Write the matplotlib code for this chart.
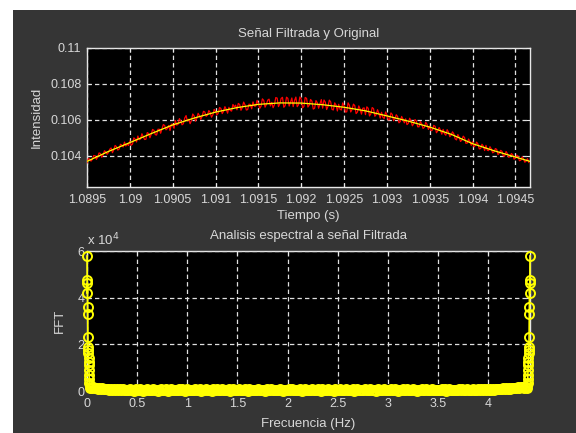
import numpy as np
import matplotlib
matplotlib.use("Agg")
import matplotlib.pyplot as plt
from matplotlib.patches import Rectangle

plt.rcParams['font.family'] = ['Liberation Sans', 'DejaVu Sans']

# ---------------- data: top panel ----------------
t_start = 1.0895
t_step = 0.000015625
# original (noisy) signal, units of 1e-6
original_u = [
    103620, 103854, 103829, 103713, 103818, 104022, 104016, 103810, 103935, 104169, 104134, 103928, 104043, 104287, 104231, 104095,
    104190, 104371, 104441, 104182, 104343, 104584, 104514, 104325, 104385, 104646, 104596, 104497, 104768, 104549, 104659, 104580,
    104830, 104591, 104662, 105004, 104925, 104776, 105107, 104899, 104940, 105231, 105072, 104914, 104925, 105296, 105247, 105009,
    105210, 105470, 105420, 105180, 105160, 105480, 105480, 105260, 105490, 105740, 105690, 105450, 105520, 105690, 105410, 105760,
    105760, 105534, 105967, 105711, 105755, 106069, 105952, 105726, 105790, 106104, 106237, 105931, 106035, 105789, 105962, 106326,
    106220, 105931, 106081, 106362, 106233, 106034, 106204, 106475, 106435, 106196, 106266, 106517, 106408, 106149, 106279, 106580,
    106490, 106276, 106371, 106687, 106633, 106349, 106484, 106730, 106585, 106371, 106696, 106522, 106488, 106854, 106719, 106815,
    106560, 106911, 106852, 106533, 106685, 106986, 106837, 106548, 106570, 106871, 106852, 106613, 106995, 106766, 106767, 107078,
    106900, 106635, 106760, 107165, 107080, 106705, 106860, 107095, 107150, 106775, 106970, 106675, 106830, 107235, 107210, 106735,
    106880, 107189, 107249, 106698, 106788, 107257, 107196, 106765, 106975, 107214, 106734, 107073, 107263, 106732, 106841, 107271,
    107150, 106664, 106739, 107243, 107188, 106712, 106816, 107130, 107035, 106599, 106644, 107068, 106953, 106647, 106891, 107125,
    106650, 107101, 106983, 106574, 106745, 107096, 106998, 106579, 106550, 106941, 106823, 106494, 106865, 106586, 106548, 106939,
    106790, 106438, 106445, 106943, 106810, 106438, 106585, 106873, 106790, 106348, 106435, 106773, 106600, 106318, 106645, 106663,
    106290, 106723, 106645, 106218, 106330, 106683, 106625, 106198, 106300, 106563, 106365, 106098, 106420, 106143, 106075, 106438,
    106280, 106002, 106014, 106386, 106298, 105950, 106071, 106283, 106185, 105837, 105909, 106191, 106043, 105835, 106056, 105738,
    105810, 106090, 105959, 105669, 105788, 106018, 105936, 105616, 105615, 105905, 105774, 105524, 105593, 105863, 105751, 105471,
    105660, 105395, 105440, 105695, 105640, 105285, 105390, 105575, 105430, 105205, 105470, 105235, 105150, 105455, 105320, 105065,
    105160, 105338, 105225, 104943, 104890, 105188, 105035, 104803, 104880, 105098, 105015, 104703, 104710, 104938, 104795, 104593,
    104790, 104506, 104581, 104767, 104663, 104389, 104414, 104650, 104545, 104301, 104586, 104312, 104298, 104514, 104379, 104175,
    104220, 104408, 104366, 104074, 104162, 104310, 104249, 103997, 104005, 104243, 104131, 103929, 103997, 104135, 104064, 103822,
    103880, 104048, 103966, 103734, 103762, 103950, 103848, 103656, 103714, 103852, 103640,
]
# filtered signal knots
filt_t = [1.08950, 1.08975, 1.09000, 1.09025, 1.09050, 1.09075, 1.09100,
          1.09125, 1.09150, 1.09175, 1.09200, 1.09225, 1.09250, 1.09275,
          1.09300, 1.09325, 1.09350, 1.09375, 1.09400, 1.09425, 1.09450,
          1.09467]
filt_y = [0.10370, 0.10425, 0.10474, 0.10524, 0.10572, 0.10610, 0.10643,
          0.10668, 0.10686, 0.10694, 0.10693, 0.10684, 0.10670, 0.10650,
          0.10622, 0.10593, 0.10560, 0.10520, 0.10468, 0.10429, 0.10394,
          0.10370]
top_xticks = [1.0895, 1.09, 1.0905, 1.091, 1.0915, 1.092, 1.0925, 1.093,
              1.0935, 1.094, 1.0945]
top_xticklabels = ['1.0895', '1.09', '1.0905', '1.091', '1.0915', '1.092',
                   '1.0925', '1.093', '1.0935', '1.094', '1.0945']
top_yticks = [0.104, 0.106, 0.108, 0.11]
top_yticklabels = ['0.104', '0.106', '0.108', '0.11']

# ---------------- data: bottom panel ----------------
fs = 4.416
left_f = [0.000, 0.0015, 0.003, 0.0045, 0.006, 0.0075, 0.009, 0.0105, 0.012,
          0.0135, 0.015, 0.0165, 0.018, 0.0195, 0.021, 0.0225, 0.024, 0.027,
          0.030]
left_v = [57860, 47570, 41870, 46160, 36130, 33000, 23270, 18990, 17570,
          16290, 14000, 12500, 11000, 9000, 7000, 5000, 3500, 2500, 1500]
mid_v = [
    1900, 1500, 1700, 1200, 1400, 1000, 1300, 900, 1100, 800,
    1000, 700, 900, 600, 850, 500, 800, 450, 700, 400,
    650, 300, 700, 500, 250, 600, 400, 750, 350, 550,
    200, 650, 450, 300, 700, 500, 150, 600, 400, 800,
    350, 550, 250, 700, 450, 600, 200, 500, 750, 300,
    600, 400, 650, 150, 550, 700, 350, 450, 250, 600,
    500, 800, 300, 650, 400, 200, 700, 550, 350, 600,
    250, 450, 700, 500, 300, 650, 150, 550, 400, 750,
    450, 300, 600, 200, 700, 500, 350, 650, 250, 550,
    700, 400, 300, 600, 450, 750, 200, 500, 650, 350,
    550, 250, 700, 400, 600, 300, 800, 450, 150, 650,
    400, 600, 350, 500, 250, 700, 450, 300, 600, 500,
    200, 650, 500, 350, 750, 400, 600, 250, 550, 300,
    700, 450, 200, 600, 500, 350, 650, 400, 750, 300,
    500, 250, 600, 450, 700, 150, 550, 650, 350, 450,
    600, 300, 750, 400, 500, 250, 650, 450, 200, 700,
    350, 550, 400, 650, 300, 600, 500, 200, 700, 450,
    250, 650, 450, 550, 350, 750, 300, 500, 600, 400,
    700, 200, 500, 650, 400, 300, 600, 450, 750, 250,
    550, 400, 700, 300, 600, 500, 150, 650, 350, 550,
    450, 750, 250, 500, 600, 350, 700, 400, 300, 650,
    500, 200, 600, 450, 750, 300, 550, 650, 250, 500,
    400, 700, 350, 600, 200, 550, 450, 750, 300, 600,
    650, 300, 500, 400, 700, 250, 600, 350, 550, 450,
    300, 750, 450, 650, 200, 500, 700, 400, 600, 350,
    550, 400, 250, 700, 500, 650, 300, 450, 800, 400,
    600, 350, 750, 450, 550, 300, 650, 500, 850, 450,
    700, 500, 800, 400, 900, 600, 750, 550, 1000, 650,
    850, 1000, 700, 1100, 800, 1200, 900, 1300, 1000, 1400,
    1100, 1500, 1300, 1700, 1200, 1600, 1800, 1400, 1900, 1700,
]
right_f = [4.386, 4.389, 4.392, 4.3935, 4.395, 4.3965, 4.398, 4.3995, 4.401,
           4.4025, 4.404, 4.4055, 4.407, 4.4085, 4.410, 4.4115, 4.413,
           4.4145, 4.416]
right_v = [1500, 2500, 3500, 5000, 7000, 9000, 11000, 12500, 14000, 16290,
           17570, 18990, 23270, 33000, 36130, 46160, 41870, 47570, 57860]
bot_xticks = [0, 0.5, 1, 1.5, 2, 2.5, 3, 3.5, 4]
bot_xticklabels = ['0', '0.5', '1', '1.5', '2', '2.5', '3', '3.5', '4']
bot_yticks = [0, 20000, 40000, 60000]
bot_yticklabels = ['0', '2', '4', '6']

# ---------------- figure ----------------
W, H = 576, 433
fig = plt.figure(figsize=(W / 100, H / 100), dpi=100, facecolor='white')
bg = '#353535'
txt = '#d8d8d8'
fig.patches.append(Rectangle((13 / W, 0), 1 - 13 / W, 1 - 10 / H,
                             transform=fig.transFigure, facecolor=bg,
                             edgecolor='none', zorder=-10))

def style(ax):
    ax.set_facecolor('black')
    for s in ax.spines.values():
        s.set_color('#e8e8e8')
        s.set_linewidth(1.0)
    ax.tick_params(direction='in', colors='#e8e8e8', labelcolor=txt,
                   labelsize=9, length=3, width=0.8, top=True, right=True)
    ax.grid(True, color='#e0e0e0', linestyle=(0, (3.5, 2.5)), linewidth=0.9)
    ax.set_axisbelow(False)

# top axes
ax1 = fig.add_axes([87 / W, 1 - 187 / H, (530 - 87) / W, (187 - 47.7) / H])
style(ax1)
t = t_start + np.arange(len(original_u)) * t_step
orig = np.array(original_u) * 1e-6
ax1.plot(t, orig, color='#ff0000', linewidth=0.9, zorder=3)
ax1.plot(filt_t, filt_y, color='#ffff00', linewidth=0.9, zorder=4)
ax1.set_xlim(1.0895, 1.09467)
ax1.set_ylim(0.10228, 0.11)
ax1.set_xticks(top_xticks)
ax1.set_xticklabels(top_xticklabels)
ax1.set_yticks(top_yticks)
ax1.set_yticklabels(top_yticklabels)
ax1.tick_params(axis='x', pad=5)
ax1.tick_params(axis='y', pad=4)
ax1.set_title('Señal Filtrada y Original', color=txt, fontsize=9.5, pad=8)
ax1.set_xlabel('Tiempo (s)', color=txt, fontsize=9.5, labelpad=3)
ax1.set_ylabel('Intensidad', color=txt, fontsize=9.5, labelpad=5)

# bottom axes
ax2 = fig.add_axes([87 / W, 1 - 391 / H, (530 - 87) / W, (391 - 251) / H])
style(ax2)
mid_f = np.linspace(0.035, fs - 0.035, len(mid_v))
freq = np.concatenate([left_f, mid_f, right_f])
vals = np.concatenate([left_v, mid_v, right_v])
ax2.plot(freq, vals, color='#ffff00', linewidth=1.2, marker='o',
         markersize=6.5, markerfacecolor='none', markeredgecolor='#ffff00',
         markeredgewidth=1.4, clip_on=False, zorder=3)
ax2.set_xlim(0, fs)
ax2.set_ylim(0, 60000)
ax2.set_xticks(bot_xticks)
ax2.set_xticklabels(bot_xticklabels)
ax2.set_yticks(bot_yticks)
ax2.set_yticklabels(bot_yticklabels)
ax2.tick_params(axis='x', pad=5)
ax2.tick_params(axis='y', pad=2)
ax2.set_title('Analisis espectral a señal Filtrada', color=txt, fontsize=9.5, pad=9)
ax2.set_xlabel('Frecuencia (Hz)', color=txt, fontsize=9.5, labelpad=6)
ax2.set_ylabel('FFT', color=txt, fontsize=9.5, labelpad=8)
ax2.text(0.0, 1.02, r'x 10$^{4}$', transform=ax2.transAxes, color=txt,
         fontsize=9.5, ha='left', va='bottom')

fig.savefig('out.png', dpi=100, facecolor='white')
